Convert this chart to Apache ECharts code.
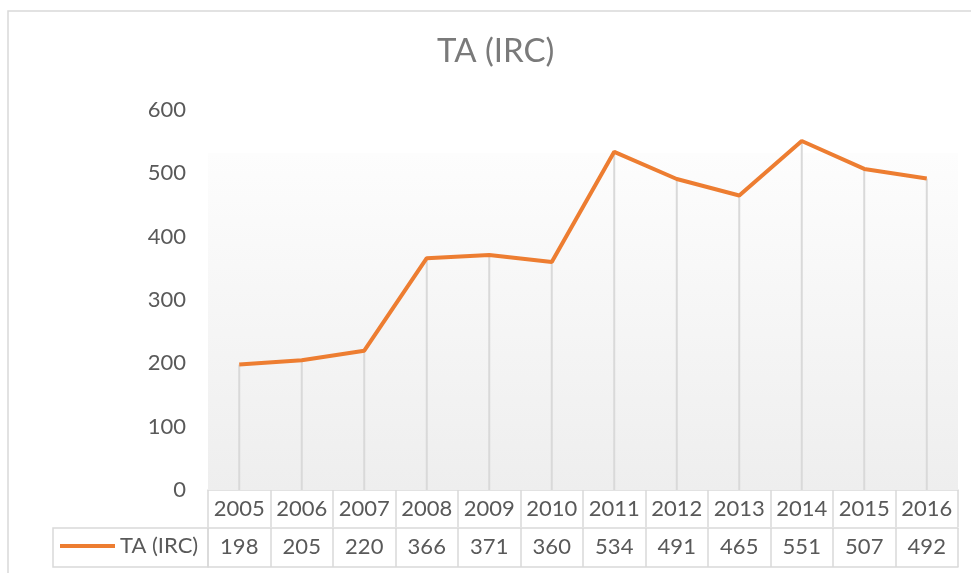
<!DOCTYPE html>
<html>
<head>
<meta charset="utf-8">
<script src="https://cdn.jsdelivr.net/npm/echarts@6/dist/echarts.min.js"></script>
<style>html,body{margin:0;padding:0;background:#fff}#c{width:971px;height:573px}</style>
</head>
<body>
<div id="c"></div>
<script>
var years = ['2005','2006','2007','2008','2009','2010','2011','2012','2013','2014','2015','2016'];
var values = [198, 205, 220, 366, 371, 360, 534, 491, 465, 551, 507, 492];
var seriesName = 'TA (IRC)';
var titleText = 'TA (IRC)';
var yTicks = [0, 100, 200, 300, 400, 500, 600];

var FONT = 'Lato';
var GRAY = '#595959';
var BORDER = '#d9d9d9';

var chart = echarts.init(document.getElementById('c'), null, {renderer: 'canvas'});
chart.setOption({
  backgroundColor: '#fff',
  animation: false,
  title: {
    text: titleText,
    left: 432, top: 30,
    textStyle: {fontFamily: FONT, fontSize: 33, fontWeight: 'normal', color: '#7a7a7a'}
  },
  legend: {
    data: [seriesName],
    left: 60, top: 535, padding: 0,
    icon: 'rect', itemWidth: 55, itemHeight: 4,
    textStyle: {fontFamily: FONT, fontSize: 22, color: GRAY}
  },
  grid: {left: 208, right: 13, top: 110, bottom: 83},
  xAxis: [{
    type: 'category', data: years, position: 'bottom',
    axisLine: {show: true, lineStyle: {color: BORDER, width: 1.5}},
    axisTick: {show: true, interval: 0, length: 37, lineStyle: {color: BORDER, width: 1.5}},
    axisLabel: {interval: 0, margin: 8, fontFamily: FONT, fontSize: 22, color: GRAY},
    splitLine: {show: false}
  }, {
    type: 'category', data: values.map(String), position: 'bottom', offset: 38,
    axisLine: {show: true, lineStyle: {color: BORDER, width: 1.5}},
    axisTick: {show: true, interval: 0, length: 39, lineStyle: {color: BORDER, width: 1.5}},
    axisLabel: {interval: 0, margin: 8, fontFamily: FONT, fontSize: 22, color: GRAY},
    splitLine: {show: false}
  }, {
    type: 'category', data: years, position: 'bottom', offset: 77,
    axisLine: {show: true, lineStyle: {color: BORDER, width: 1.5}},
    axisTick: {show: false}, axisLabel: {show: false}, splitLine: {show: false}
  }],
  yAxis: {
    type: 'value', min: yTicks[0], max: yTicks[yTicks.length - 1], interval: 100,
    axisLine: {show: false}, axisTick: {show: false}, splitLine: {show: false},
    axisLabel: {margin: 22, fontFamily: FONT, fontSize: 22, color: GRAY}
  },
  graphic: [{
    type: 'rect', shape: {x: 8, y: 11, width: 1000, height: 620}, silent: true, z: -10,
    style: {fill: 'none', stroke: BORDER, lineWidth: 1.5}
  }, {
    type: 'rect', shape: {x: 53, y: 528, width: 155, height: 39}, silent: true,
    style: {fill: 'none', stroke: BORDER, lineWidth: 1.5}
  }],
  series: [{
    name: 'drop', type: 'bar', data: values, barWidth: 2, silent: true,
    itemStyle: {color: BORDER}, z: 1,
    markArea: {
      silent: true,
      itemStyle: {
        color: {type: 'linear', x: 0, y: 0, x2: 0, y2: 1, colorStops: [
          {offset: 0, color: '#fdfdfd'}, {offset: 1, color: '#eeeeee'}]}
      },
      data: [[{yAxis: 0}, {yAxis: 532}]]
    }
  }, {
    name: seriesName, type: 'line', data: values, symbol: 'none', z: 3,
    lineStyle: {color: '#ED7D31', width: 4}, itemStyle: {color: '#ED7D31'}
  }]
});
</script>
</body>
</html>
